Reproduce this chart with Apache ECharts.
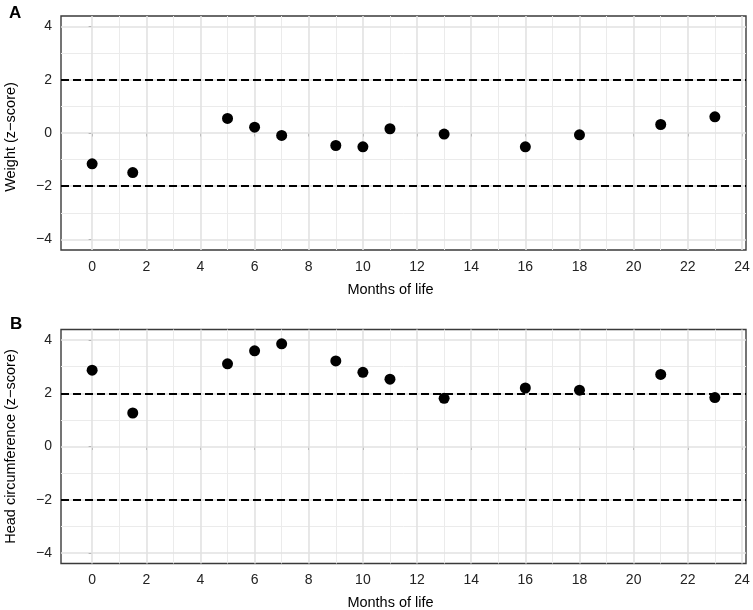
<!DOCTYPE html>
<html><head><meta charset="utf-8">
<script src="https://cdn.jsdelivr.net/npm/echarts@6/dist/echarts.min.js"></script>
<style>html,body{margin:0;padding:0;background:#fff}#c{width:753px;height:610px}</style>
</head><body><div id="c"></div>
<script>
const months = [0, 1.5, 5, 6, 7, 9, 10, 11, 13, 16, 18, 21, 23];
const weightZ = [-1.16, -1.49, 0.55, 0.22, -0.09, -0.47, -0.52, 0.16, -0.04, -0.52, -0.07, 0.32, 0.61];
const headZ = [2.87, 1.26, 3.11, 3.60, 3.86, 3.22, 2.79, 2.53, 1.81, 2.20, 2.12, 2.71, 1.84];
const xTicks = [0, 2, 4, 6, 8, 10, 12, 14, 16, 18, 20, 22, 24];
const xMinor = [1, 3, 5, 7, 9, 11, 13, 15, 17, 19, 21, 23];
const yTicks = [-4, -2, 0, 2, 4];
const yMinor = [-3, -1, 1, 3];
const refLines = [-2, 2];
const xRange = [-1.15, 24.15];
const yRange = [-4.4, 4.4];

const FONT = 'Liberation Sans';
const fmt = v => String(v).replace('-', '\u2212');
const grids = [
  {left: 61, top: 16, width: 685, height: 234, show: true, borderColor: '#3a3a3a', borderWidth: 1.4, backgroundColor: '#fff', outerBoundsMode: 'none', containLabel: false},
  {left: 61, top: 329.5, width: 685, height: 234, show: true, borderColor: '#3a3a3a', borderWidth: 1.4, backgroundColor: '#fff', outerBoundsMode: 'none', containLabel: false}
];
const yNames = ['Weight (z\u2212score)', 'Head circumference (z\u2212score)'];
const yNamePad = [[0, 8, 0, 0], 0];
const series = [];
const xAxes = [], yAxes = [];
[0, 1].forEach(i => {
  xAxes.push({
    type: 'value', gridIndex: i, min: xRange[0], max: xRange[1],
    name: 'Months of life', nameLocation: 'middle', nameGap: 32,
    nameTextStyle: {fontFamily: FONT, fontSize: 14.5, color: '#000', padding: [0, 26, 0, 0]},
    axisLine: {show: false},
    axisTick: {show: true, length: 3.5, lineStyle: {color: '#333', width: 1}, customValues: xTicks},
    axisLabel: {customValues: xTicks, formatter: fmt, margin: 10, fontFamily: FONT, fontSize: 14, color: '#222'},
    splitLine: {show: false}
  });
  yAxes.push({
    type: 'value', gridIndex: i, min: yRange[0], max: yRange[1],
    name: yNames[i], nameLocation: 'middle', nameGap: 43, nameRotate: 90,
    nameTextStyle: {fontFamily: FONT, fontSize: 14.5, color: '#000', padding: yNamePad[i]},
    axisLine: {show: false},
    axisTick: {show: true, length: 3.5, lineStyle: {color: '#333', width: 1}, customValues: yTicks},
    axisLabel: {customValues: yTicks, formatter: fmt, margin: 9, fontFamily: FONT, fontSize: 14, color: '#222'},
    splitLine: {show: false}
  });
  const gridData = [];
  xMinor.forEach(v => gridData.push({xAxis: v, lineStyle: {color: '#ebebeb', width: 1, type: 'solid'}}));
  yMinor.forEach(v => gridData.push({yAxis: v, lineStyle: {color: '#ebebeb', width: 1, type: 'solid'}}));
  xTicks.forEach(v => gridData.push({xAxis: v, lineStyle: {color: '#e2e2e2', width: 1.6, type: 'solid'}}));
  yTicks.forEach(v => gridData.push({yAxis: v, lineStyle: {color: '#e2e2e2', width: 1.6, type: 'solid'}}));
  series.push({
    type: 'line', xAxisIndex: i, yAxisIndex: i, data: [], z: 1, silent: true,
    markLine: {silent: true, symbol: 'none', label: {show: false}, animation: false, data: gridData}
  });
  const vals = i === 0 ? weightZ : headZ;
  series.push({
    type: 'scatter', xAxisIndex: i, yAxisIndex: i, z: 5,
    data: months.map((m, k) => [m, vals[k]]),
    symbol: 'circle', symbolSize: 11, itemStyle: {color: '#000', opacity: 1},
    markLine: {silent: true, symbol: 'none', label: {show: false}, animation: false,
      lineStyle: {color: '#000', width: 2, type: [8, 4]},
      data: refLines.map(v => ({yAxis: v}))}
  });
});

const chart = echarts.init(document.getElementById('c'), null, {renderer: 'canvas'});
chart.setOption({
  animation: false,
  backgroundColor: '#fff',
  grid: grids,
  xAxis: xAxes,
  yAxis: yAxes,
  series: series,
  graphic: [
    {type: 'text', left: 9, top: 5, style: {text: 'A', font: 'bold 17px ' + FONT, fill: '#000'}},
    {type: 'text', left: 10, top: 316, style: {text: 'B', font: 'bold 17px ' + FONT, fill: '#000'}}
  ]
});
</script></body></html>
